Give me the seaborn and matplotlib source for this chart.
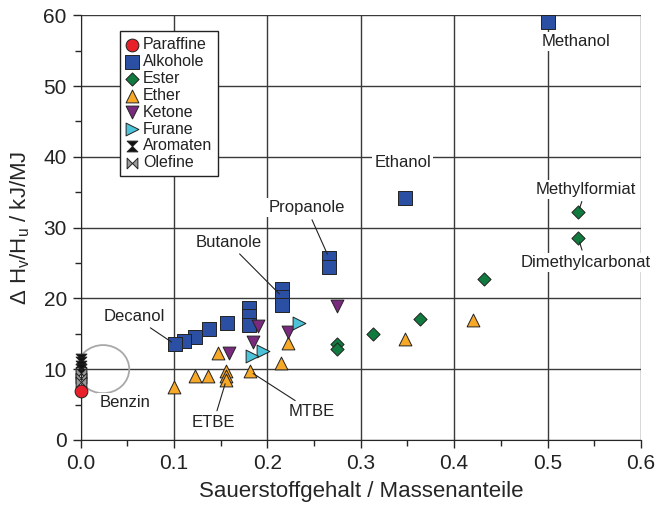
import matplotlib
matplotlib.use("Agg")
import matplotlib.pyplot as plt
import seaborn as sns
import pandas as pd
from matplotlib.path import Path
from matplotlib.patches import Ellipse
from matplotlib.ticker import MultipleLocator, FormatStrFormatter

# data (x: oxygen mass fraction, y: dHv/Hu in kJ/MJ)
paraffine_x = [0.0]
paraffine_y = [6.9]
alkohole_x = [0.5, 0.347, 0.266, 0.266, 0.216, 0.216, 0.216, 0.18, 0.18, 0.18, 0.157, 0.137, 0.122, 0.111, 0.101]
alkohole_y = [59.0, 34.2, 25.7, 24.4, 21.3, 20.2, 19.0, 18.7, 17.5, 16.3, 16.5, 15.7, 14.5, 14.0, 13.5]
ester_x = [0.533, 0.533, 0.432, 0.363, 0.313, 0.275, 0.275]
ester_y = [32.2, 28.5, 22.7, 17.1, 15.0, 13.5, 12.9]
ether_x = [0.42, 0.347, 0.222, 0.214, 0.181, 0.147, 0.100, 0.122, 0.136, 0.156, 0.156, 0.156]
ether_y = [16.9, 14.3, 13.7, 10.9, 9.7, 12.3, 7.5, 9.0, 9.0, 9.7, 9.1, 8.5]
ketone_x = [0.274, 0.222, 0.19, 0.185, 0.159]
ketone_y = [18.9, 15.2, 16.1, 13.8, 12.3]
furane_x = [0.234, 0.195, 0.184]
furane_y = [16.5, 12.6, 11.9]
aromaten_x = [0.0, 0.0, 0.0, 0.0]
aromaten_y = [11.5, 11.0, 10.5, 10.0]
olefine_x = [0.0, 0.0, 0.0]
olefine_y = [9.4, 8.8, 8.2]

# custom markers
M, L, C = Path.MOVETO, Path.LINETO, Path.CLOSEPOLY
hourglass = Path([(-1, 1), (1, 1), (0, 0), (-1, 1), (-1, -1), (1, -1), (0, 0), (-1, -1)],
                 [M, L, L, C, M, L, L, C])
bowtie = Path([(-1, -1), (-1, 1), (0, 0), (-1, -1), (1, -1), (1, 1), (0, 0), (1, -1)],
              [M, L, L, C, M, L, L, C])

groups = [
    ("Paraffine", paraffine_x, paraffine_y, "o", "#e8202a", 85),
    ("Alkohole", alkohole_x, alkohole_y, "s", "#2b4fa3", 95),
    ("Ester", ester_x, ester_y, "D", "#117a3e", 45),
    ("Ether", ether_x, ether_y, "^", "#f7a827", 85),
    ("Ketone", ketone_x, ketone_y, "v", "#7a2a7e", 85),
    ("Furane", furane_x, furane_y, ">", "#4cc3d8", 85),
    ("Aromaten", aromaten_x, aromaten_y, hourglass, "#111111", 60),
    ("Olefine", olefine_x, olefine_y, bowtie, "#9a9a9a", 60),
]

sns.set_style("ticks")
plt.rcParams["font.family"] = ["Liberation Sans", "DejaVu Sans"]
plt.rcParams["mathtext.fontset"] = "custom"
plt.rcParams["mathtext.rm"] = "Liberation Sans"
plt.rcParams["mathtext.it"] = "Liberation Sans"
plt.rcParams["text.color"] = "#222222"

fig = plt.figure(figsize=(6.56, 5.08), dpi=100)
ax = fig.add_axes([0.123, 0.134, 0.854, 0.836])

for name, xs, ys, mk, col, sz in groups:
    df = pd.DataFrame({"x": xs, "y": ys})
    sns.scatterplot(data=df, x="x", y="y", marker=mk, color=col, s=sz,
                    edgecolor="#222222", linewidth=0.7, label=name, ax=ax,
                    zorder=4, clip_on=False)

ax.set_xlim(0, 0.6)
ax.set_ylim(0, 60)
ax.xaxis.set_major_locator(MultipleLocator(0.1))
ax.xaxis.set_minor_locator(MultipleLocator(0.05))
ax.yaxis.set_major_locator(MultipleLocator(10))
ax.yaxis.set_minor_locator(MultipleLocator(5))
ax.xaxis.set_major_formatter(FormatStrFormatter("%.1f"))
ax.grid(True, which="major", color="#3a3a3a", linewidth=1.0, zorder=0)
ax.set_axisbelow(True)
sns.despine(ax=ax, top=True, right=True)
ax.tick_params(which="major", direction="out", length=6, width=1, labelsize=15, pad=4,
               labelcolor="#222222")
ax.tick_params(which="minor", direction="out", length=4, width=1)

ax.set_xlabel("Sauerstoffgehalt / Massenanteile", fontsize=16, labelpad=6)
ax.set_ylabel(r"$\Delta$ H$_\mathrm{v}$/H$_\mathrm{u}$ / kJ/MJ", fontsize=16, labelpad=8)

# gasoline region
ax.add_patch(Ellipse((0.024, 10), 0.056, 6.8, fill=False, edgecolor="#a8a8a8",
                     linewidth=1.3, zorder=3))

box = dict(facecolor="white", edgecolor="none", pad=1.5)
notes = [
    ("Methanol", None, (0.53, 56.3)),
    ("Ethanol", None, (0.345, 39.2)),
    ("Propanole", (alkohole_x[2], alkohole_y[2]), (0.242, 32.8)),
    ("Butanole", (alkohole_x[5], alkohole_y[5]), (0.158, 27.9)),
    ("Decanol", (alkohole_x[-1], alkohole_y[-1]), (0.057, 17.4)),
    ("Benzin", None, (0.047, 5.3)),
    ("ETBE", (ether_x[-1], ether_y[-1]), (0.142, 2.4)),
    ("MTBE", (ether_x[4], ether_y[4]), (0.248, 4.0)),
    ("Methylformiat", (ester_x[0], ester_y[0]), (0.541, 35.4)),
    ("Dimethylcarbonat", (ester_x[1], ester_y[1]), (0.541, 25.1)),
]
for txt, target, pos in notes:
    if target is None:
        ax.text(pos[0], pos[1], txt, fontsize=12, ha="center", va="center",
                bbox=box, zorder=5)
    else:
        ax.annotate(txt, xy=target, xytext=pos, fontsize=12, ha="center", va="center",
                    bbox=box, zorder=5,
                    arrowprops=dict(arrowstyle="-", color="#222222", lw=0.8,
                                    shrinkA=2, shrinkB=3))

leg = ax.legend(loc="upper left", bbox_to_anchor=(0.07, 0.962), fontsize=11.5,
                frameon=True, fancybox=False, framealpha=1, edgecolor="#222222",
                handletextpad=0.3, handlelength=0.8, labelspacing=0.12,
                borderpad=0.35, borderaxespad=0)
leg.get_frame().set_linewidth(1.0)
leg.set_zorder(6)

fig.savefig("out.png", dpi=100)
